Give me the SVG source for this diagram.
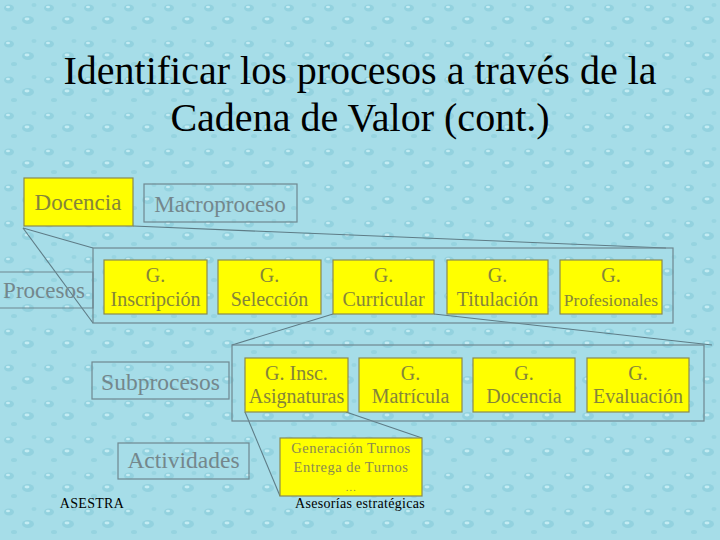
<svg xmlns="http://www.w3.org/2000/svg" width="720" height="540" viewBox="0 0 720 540">
<defs>
<pattern id="drops" width="40" height="36" patternUnits="userSpaceOnUse">
<rect width="40" height="36" fill="#a6dde8"/>
<ellipse cx="9" cy="8" rx="5" ry="3.5" fill="#93d2df"/>
<ellipse cx="8" cy="7" rx="2" ry="1.2" fill="#c4ecf3"/>
<ellipse cx="28" cy="20" rx="6" ry="4" fill="#93d2df"/>
<ellipse cx="27" cy="19" rx="2.5" ry="1.4" fill="#c4ecf3"/>
<ellipse cx="14" cy="28" rx="3" ry="2" fill="#96d4e0"/>
<ellipse cx="34" cy="5" rx="2.5" ry="2" fill="#98d5e1"/>
</pattern>
<style>
.title{font-size:40px;fill:#000;text-anchor:middle}
.yb{fill:#ffff00;stroke:#8a8a50;stroke-width:1.2}
.ob{fill:none;stroke:#6f8890;stroke-width:1.2}
.yt{font-size:20px;fill:#85853a;text-anchor:middle}
.ot{font-size:23px;fill:#74878c;text-anchor:middle}
.st{font-size:14.5px;fill:#8a8a50;text-anchor:middle;letter-spacing:0.5px}
.bt{font-size:14px;fill:#000;text-anchor:middle;letter-spacing:0.3px}
.ln{stroke:#5e7c86;stroke-width:1.1;fill:none}
</style>
</defs>
<rect width="720" height="540" fill="url(#drops)"/>
<g id="title">
<text class="title" font-family="Liberation Serif" x="360" y="84">Identificar los procesos a través de la</text>
<text class="title" font-family="Liberation Serif" x="360" y="131">Cadena de Valor (cont.)</text>
</g>
<g id="connectors">
<line class="ln" x1="23" y1="228" x2="93" y2="248"/>
<line class="ln" x1="23" y1="228" x2="93" y2="323"/>
<line class="ln" x1="133" y1="226" x2="666" y2="248"/>
<line class="ln" x1="333" y1="314" x2="232" y2="345"/>
<line class="ln" x1="434" y1="314" x2="712" y2="345"/>
<line class="ln" x1="245" y1="412" x2="280" y2="496"/>
<line class="ln" x1="346" y1="412" x2="422" y2="438"/>
</g>
<g id="docencia"><rect class="yb" x="24" y="178" width="109" height="48"/><text class="yt" font-family="Liberation Serif" x="78" y="210" style="font-size:23px">Docencia</text></g>
<g id="macroproceso"><rect class="ob" x="144" y="184" width="153" height="38"/><text class="ot" font-family="Liberation Serif" x="220" y="212">Macroproceso</text></g>
<g id="procesos-frame"><rect class="ob" x="93" y="248" width="580" height="75"/></g>
<g id="procesos"><path class="ob" d="M0 272 H93 V308 H0"/><text class="ot" font-family="Liberation Serif" x="44" y="298">Procesos</text></g>
<g id="g-inscripcion"><rect class="yb" x="104" y="260" width="103" height="54"/><text class="yt" font-family="Liberation Serif" x="155.5" y="282">G.</text><text class="yt" font-family="Liberation Serif" x="155.5" y="306">Inscripción</text></g>
<g id="g-seleccion"><rect class="yb" x="218" y="260" width="103" height="54"/><text class="yt" font-family="Liberation Serif" x="269.5" y="282">G.</text><text class="yt" font-family="Liberation Serif" x="269.5" y="306">Selección</text></g>
<g id="g-curricular"><rect class="yb" x="333" y="260" width="101" height="54"/><text class="yt" font-family="Liberation Serif" x="383.5" y="282">G.</text><text class="yt" font-family="Liberation Serif" x="383.5" y="306">Curricular</text></g>
<g id="g-titulacion"><rect class="yb" x="447" y="260" width="101" height="54"/><text class="yt" font-family="Liberation Serif" x="497.5" y="282">G.</text><text class="yt" font-family="Liberation Serif" x="497.5" y="306">Titulación</text></g>
<g id="g-profesionales"><rect class="yb" x="560" y="260" width="102" height="54"/><text class="yt" font-family="Liberation Serif" x="611" y="282">G.</text><text class="yt" font-family="Liberation Serif" x="611" y="306" style="font-size:17.5px">Profesionales</text></g>
<g id="subprocesos-frame"><rect class="ob" x="232" y="345" width="472" height="76"/></g>
<g id="subprocesos"><rect class="ob" x="92" y="362" width="137" height="37"/><text class="ot" font-family="Liberation Serif" x="160.5" y="390" style="font-size:23.5px">Subprocesos</text></g>
<g id="g-insc-asignaturas"><rect class="yb" x="245" y="358" width="103" height="54"/><text class="yt" font-family="Liberation Serif" x="296.5" y="380">G. Insc.</text><text class="yt" font-family="Liberation Serif" x="296.5" y="403">Asignaturas</text></g>
<g id="g-matricula"><rect class="yb" x="359" y="358" width="103" height="54"/><text class="yt" font-family="Liberation Serif" x="410.5" y="380">G.</text><text class="yt" font-family="Liberation Serif" x="410.5" y="403">Matrícula</text></g>
<g id="g-docencia"><rect class="yb" x="473" y="358" width="102" height="54"/><text class="yt" font-family="Liberation Serif" x="524" y="380">G.</text><text class="yt" font-family="Liberation Serif" x="524" y="403">Docencia</text></g>
<g id="g-evaluacion"><rect class="yb" x="587" y="358" width="102" height="54"/><text class="yt" font-family="Liberation Serif" x="638" y="380">G.</text><text class="yt" font-family="Liberation Serif" x="638" y="403">Evaluación</text></g>
<g id="actividades"><rect class="ob" x="118" y="443" width="131" height="36"/><text class="ot" font-family="Liberation Serif" x="183.5" y="468" style="font-size:23.5px">Actividades</text></g>
<g id="actividades-detalle"><rect class="yb" x="280" y="438" width="142" height="58"/><text class="st" font-family="Liberation Serif" x="351" y="453">Generación Turnos</text><text class="st" font-family="Liberation Serif" x="351" y="472">Entrega de Turnos</text><text class="st" font-family="Liberation Serif" x="351" y="491" style="font-size:11px">…</text></g>
<g id="asesorias"><text class="bt" font-family="Liberation Serif" x="360" y="508">Asesorías estratégicas</text></g>
<g id="asestra"><text class="bt" font-family="Liberation Serif" x="92" y="508">ASESTRA</text></g>
</svg>
